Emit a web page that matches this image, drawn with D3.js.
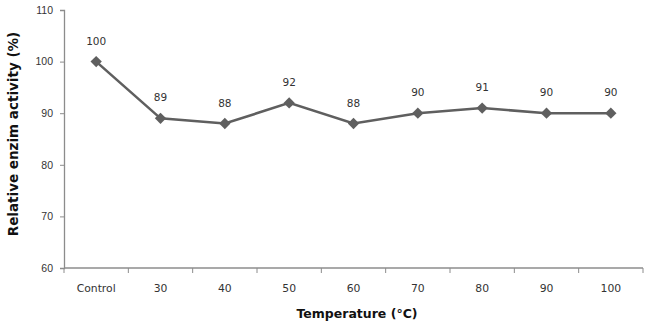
<!DOCTYPE html>
<html>
<head>
<meta charset="utf-8">
<script src="https://cdn.jsdelivr.net/npm/d3@7"></script>
<style>
  body { margin: 0; background: #fff; }
  svg { font-family: "DejaVu Sans", Arial, sans-serif; }
</style>
</head>
<body>
<div class="chart"></div>
<script>
const categories = ["Control", "30", "40", "50", "60", "70", "80", "90", "100"];
const activity = [100, 89, 88, 92, 88, 90, 91, 90, 90];
const yTicks = [60, 70, 80, 90, 100, 110];

function drawChart() {
  const width = 650;
  const height = 324;
  const margins = {top: 10, bottom: 56, left: 64, right: 7};

  const svg = d3.select(".chart").append("svg")
    .attr("width", width)
    .attr("height", height);

  const xScale = d3.scaleBand()
    .domain(categories)
    .range([margins.left, width - margins.right]);

  const yScale = d3.scaleLinear()
    .domain([60, 110])
    .range([height - margins.bottom, margins.top]);

  // y axis
  const yAxis = svg.append("g")
    .attr("transform", `translate(${margins.left}, 0)`)
    .call(d3.axisLeft(yScale).tickValues(yTicks).tickSize(4).tickPadding(7));
  yAxis.select(".domain").attr("stroke", "#8c8c8c").attr("stroke-width", 1.3);
  yAxis.selectAll(".tick line").attr("stroke", "#8c8c8c");
  yAxis.selectAll("text").attr("font-size", 10.5).attr("fill", "#333");

  // x axis, ticks sit on band boundaries
  const xAxisY = height - margins.bottom;
  const xg = svg.append("g");
  xg.append("line")
    .attr("x1", margins.left).attr("x2", width - margins.right)
    .attr("y1", xAxisY).attr("y2", xAxisY)
    .attr("stroke", "#8c8c8c").attr("stroke-width", 1.3);
  const bounds = categories.map(c => xScale(c)).concat([width - margins.right]);
  xg.selectAll(".xt")
    .data(bounds)
    .enter()
    .append("line")
      .attr("x1", d => d).attr("x2", d => d)
      .attr("y1", xAxisY).attr("y2", xAxisY + 5)
      .attr("stroke", "#8c8c8c");
  xg.selectAll(".xl")
    .data(categories)
    .enter()
    .append("text")
      .attr("x", d => xScale(d) + xScale.bandwidth() / 2)
      .attr("y", xAxisY + 24)
      .attr("text-anchor", "middle")
      .attr("font-size", 10.8)
      .attr("fill", "#333")
      .text(d => d);

  // axis titles
  svg.append("text")
    .attr("x", 357)
    .attr("y", 318)
    .attr("text-anchor", "middle")
    .attr("font-size", 12.5)
    .attr("font-weight", "bold")
    .attr("fill", "#111")
    .text("Temperature (°C)");

  svg.append("text")
    .attr("transform", "translate(18, 134) rotate(-90)")
    .attr("text-anchor", "middle")
    .attr("font-size", 13.5)
    .attr("font-weight", "bold")
    .attr("fill", "#111")
    .text("Relative enzim activity  (%)");

  const cx = (d, i) => xScale(categories[i]) + xScale.bandwidth() / 2;

  const line = d3.line()
    .x(cx)
    .y(d => yScale(d));

  svg.append("path")
    .attr("fill", "none")
    .attr("stroke", "#5f5f5f")
    .attr("stroke-width", 2.6)
    .attr("d", line(activity));

  const marker = d3.symbol().type(d3.symbolSquare).size(64);
  svg.selectAll(".mk")
    .data(activity)
    .enter()
    .append("path")
      .attr("d", marker)
      .attr("transform", (d, i) => `translate(${cx(d, i)}, ${yScale(d)}) rotate(45)`)
      .attr("fill", "#5f5f5f");

  svg.selectAll(".lbl")
    .data(activity)
    .enter()
    .append("text")
      .attr("x", cx)
      .attr("y", d => yScale(d) - 17)
      .attr("text-anchor", "middle")
      .attr("font-size", 10.5)
      .attr("fill", "#333")
      .text(d => d);
}

drawChart();
</script>
</body>
</html>
